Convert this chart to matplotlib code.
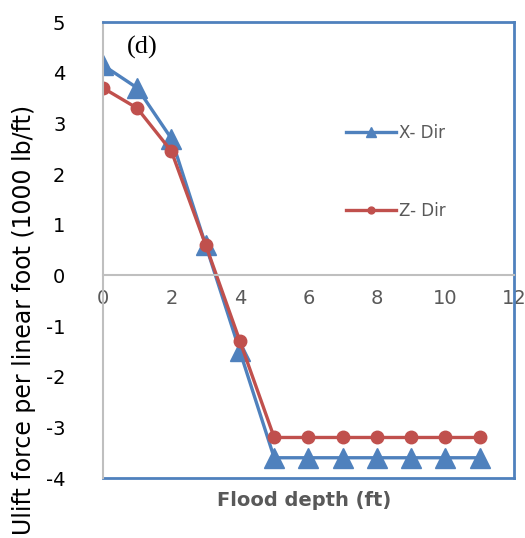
import matplotlib
matplotlib.use("Agg")
import matplotlib.pyplot as plt

plt.rcParams["axes.unicode_minus"] = False

# data
depth = [0, 1, 2, 3, 4, 5, 6, 7, 8, 9, 10, 11]
x_dir = [4.15, 3.7, 2.7, 0.6, -1.5, -3.6, -3.6, -3.6, -3.6, -3.6, -3.6, -3.6]
z_dir = [3.7, 3.3, 2.45, 0.6, -1.3, -3.2, -3.2, -3.2, -3.2, -3.2, -3.2, -3.2]
x_ticks = [0, 2, 4, 6, 8, 10, 12]
y_ticks = [-4, -3, -2, -1, 0, 1, 2, 3, 4, 5]

blue = "#4F81BD"
red = "#C0504D"
grey_txt = "#595959"

fig = plt.figure(figsize=(5.25, 5.38), dpi=100)
ax = fig.add_axes([0.196, 0.1115, 0.783, 0.8475])

ax.plot(depth, x_dir, color=blue, lw=2.4, marker="^", ms=14, label="X- Dir")
ax.plot(depth, z_dir, color=red, lw=2.4, marker="o", ms=9, label="Z- Dir")

ax.set_xlim(0, 12)
ax.set_ylim(-4, 5)
ax.set_xticks(x_ticks)
ax.set_yticks(y_ticks)

# x axis sits on y=0, plot area box in blue
ax.spines["bottom"].set_position(("data", 0))
ax.spines["bottom"].set_color("#BFBFBF")
ax.spines["left"].set_color("#BFBFBF")
for s in ["bottom", "left"]:
    ax.spines[s].set_linewidth(1.5)
for s in ["top", "right"]:
    ax.spines[s].set_color(blue)
    ax.spines[s].set_linewidth(2)
ax.axhline(-4, color=blue, lw=2, clip_on=False)

ax.tick_params(length=0, labelsize=14, labelcolor=grey_txt, pad=10)
ax.tick_params(axis="y", labelcolor="black", pad=27)

fig.text(0.046, 0.405, "Ulift force per linear foot (1000 lb/ft)", fontsize=17,
         rotation=90, ha="center", va="center")
fig.text(0.58, 0.07, "Flood depth (ft)", fontsize=14, fontweight="bold",
         color=grey_txt, ha="center", va="center")

ax.text(1.14, 4.5, "(d)", fontsize=19, family="Liberation Serif", ha="center", va="center")

ax.legend(loc="upper left", bbox_to_anchor=(0.555, 0.809), frameon=False,
          fontsize=12, labelspacing=3.6, handlelength=3.0, handletextpad=0.15,
          markerscale=0.55, labelcolor=grey_txt)

fig.savefig("out.png", dpi=100)
